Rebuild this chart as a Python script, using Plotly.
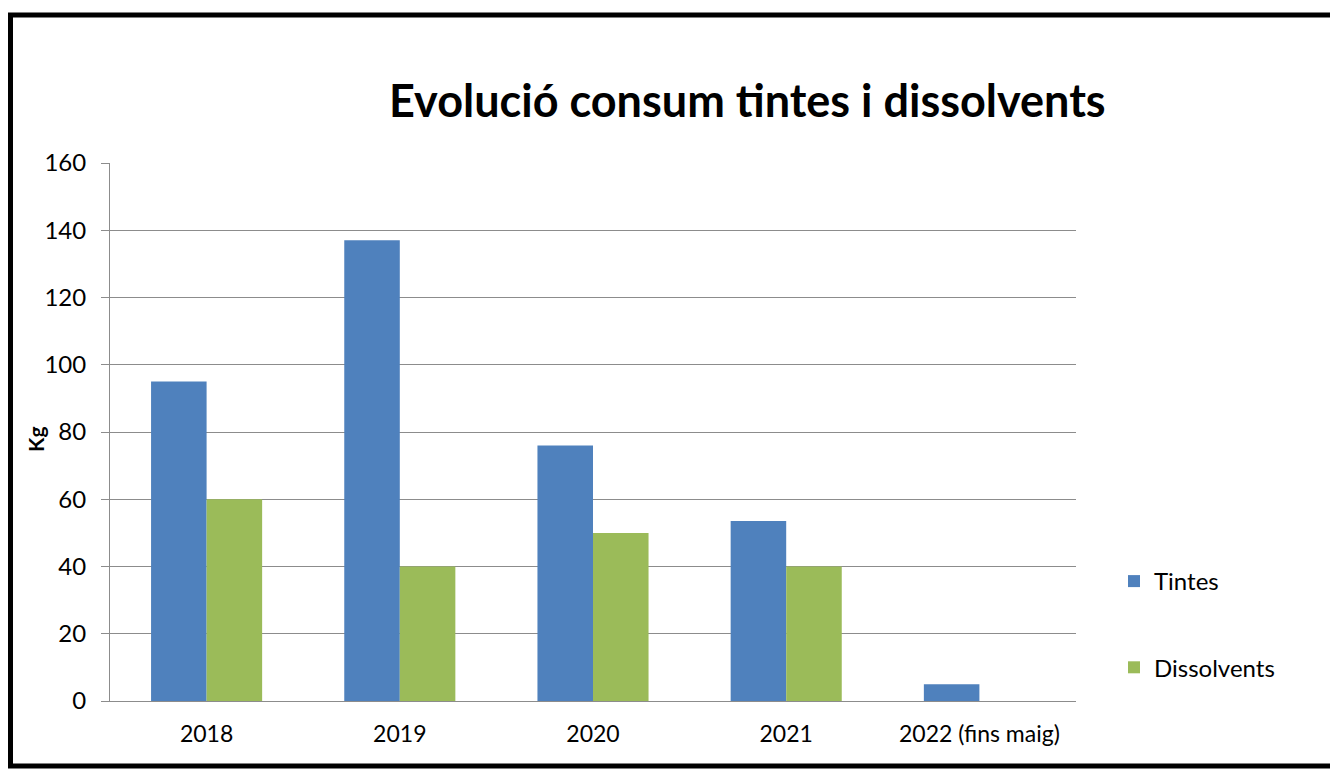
import plotly.graph_objects as go

# chart data
years = ['2018', '2019', '2020', '2021', '2022 (fins maig)']
tintes = [95, 137, 76, 53.5, 5]
dissolvents = [60, 40, 50, 40, None]
y_ticks = [0, 20, 40, 60, 80, 100, 120, 140, 160]

# the page body adds an 8px margin, so work in screen pixels and shift
OFF = 8
W, H = 1338 - OFF, 769 - OFF
PL, PR, PT, PB = 110, 1076, 163, 701  # plot area in screen pixels


def px(x):
    return (x - PL) / (PR - PL)


def py(y):
    return (PB - y) / (PB - PT)


FONT = 'Lato'
GRID = '#8c8c8c'

fig = go.Figure()

fig.add_trace(go.Bar(
    x=years, y=tintes, name='Tintes',
    marker=dict(color='#4F81BD', line=dict(width=0)),
    legendgroup='a'
))
fig.add_trace(go.Bar(
    x=years, y=dissolvents, name='Dissolvents',
    marker=dict(color='#9BBB59', line=dict(width=0)),
    legendgroup='b'
))

# outer frame
fig.add_shape(
    type='rect', xref='paper', yref='paper',
    x0=px(10.5), x1=px(1335.5), y0=py(766), y1=py(15),
    line=dict(color='black', width=5), layer='below'
)

# title
fig.add_annotation(
    text='<b>Evolució consum tintes i dissolvents</b>',
    xref='paper', yref='paper', x=px(747.5), y=py(100),
    xanchor='center', yanchor='middle', showarrow=False,
    font=dict(family=FONT, size=45, color='black')
)

# y axis title
fig.add_annotation(
    text='<b>Kg</b>', textangle=-90,
    xref='paper', yref='paper', x=px(35), y=py(440),
    xanchor='center', yanchor='middle', showarrow=False,
    font=dict(family=FONT, size=21, color='black')
)

fig.update_layout(
    width=W, height=H,
    margin=dict(l=PL - OFF, r=W - (PR - OFF), t=PT - OFF, b=H - (PB - OFF), pad=0),
    paper_bgcolor='white', plot_bgcolor='white',
    barmode='group', bargap=0.425, bargroupgap=0,
    font=dict(family=FONT, size=23, color='black'),
    legend=dict(
        x=px(1114), y=py(559), xanchor='left', yanchor='top',
        traceorder='grouped', tracegroupgap=52,
        font=dict(family=FONT, size=24, color='black'),
        bgcolor='rgba(0,0,0,0)', itemclick=False
    ),
    xaxis=dict(
        showline=True, linecolor=GRID, linewidth=1,
        ticks='', showgrid=False, ticklabelstandoff=12,
        tickfont=dict(family=FONT, size=23)
    ),
    yaxis=dict(
        range=[0, 160], tickvals=y_ticks,
        showline=True, linecolor=GRID, linewidth=1,
        showgrid=True, gridcolor=GRID, gridwidth=1,
        ticks='outside', ticklen=8, tickcolor=GRID,
        ticklabelstandoff=10, zeroline=False,
        tickfont=dict(family=FONT, size=24)
    )
)

fig.write_html('out.html')
